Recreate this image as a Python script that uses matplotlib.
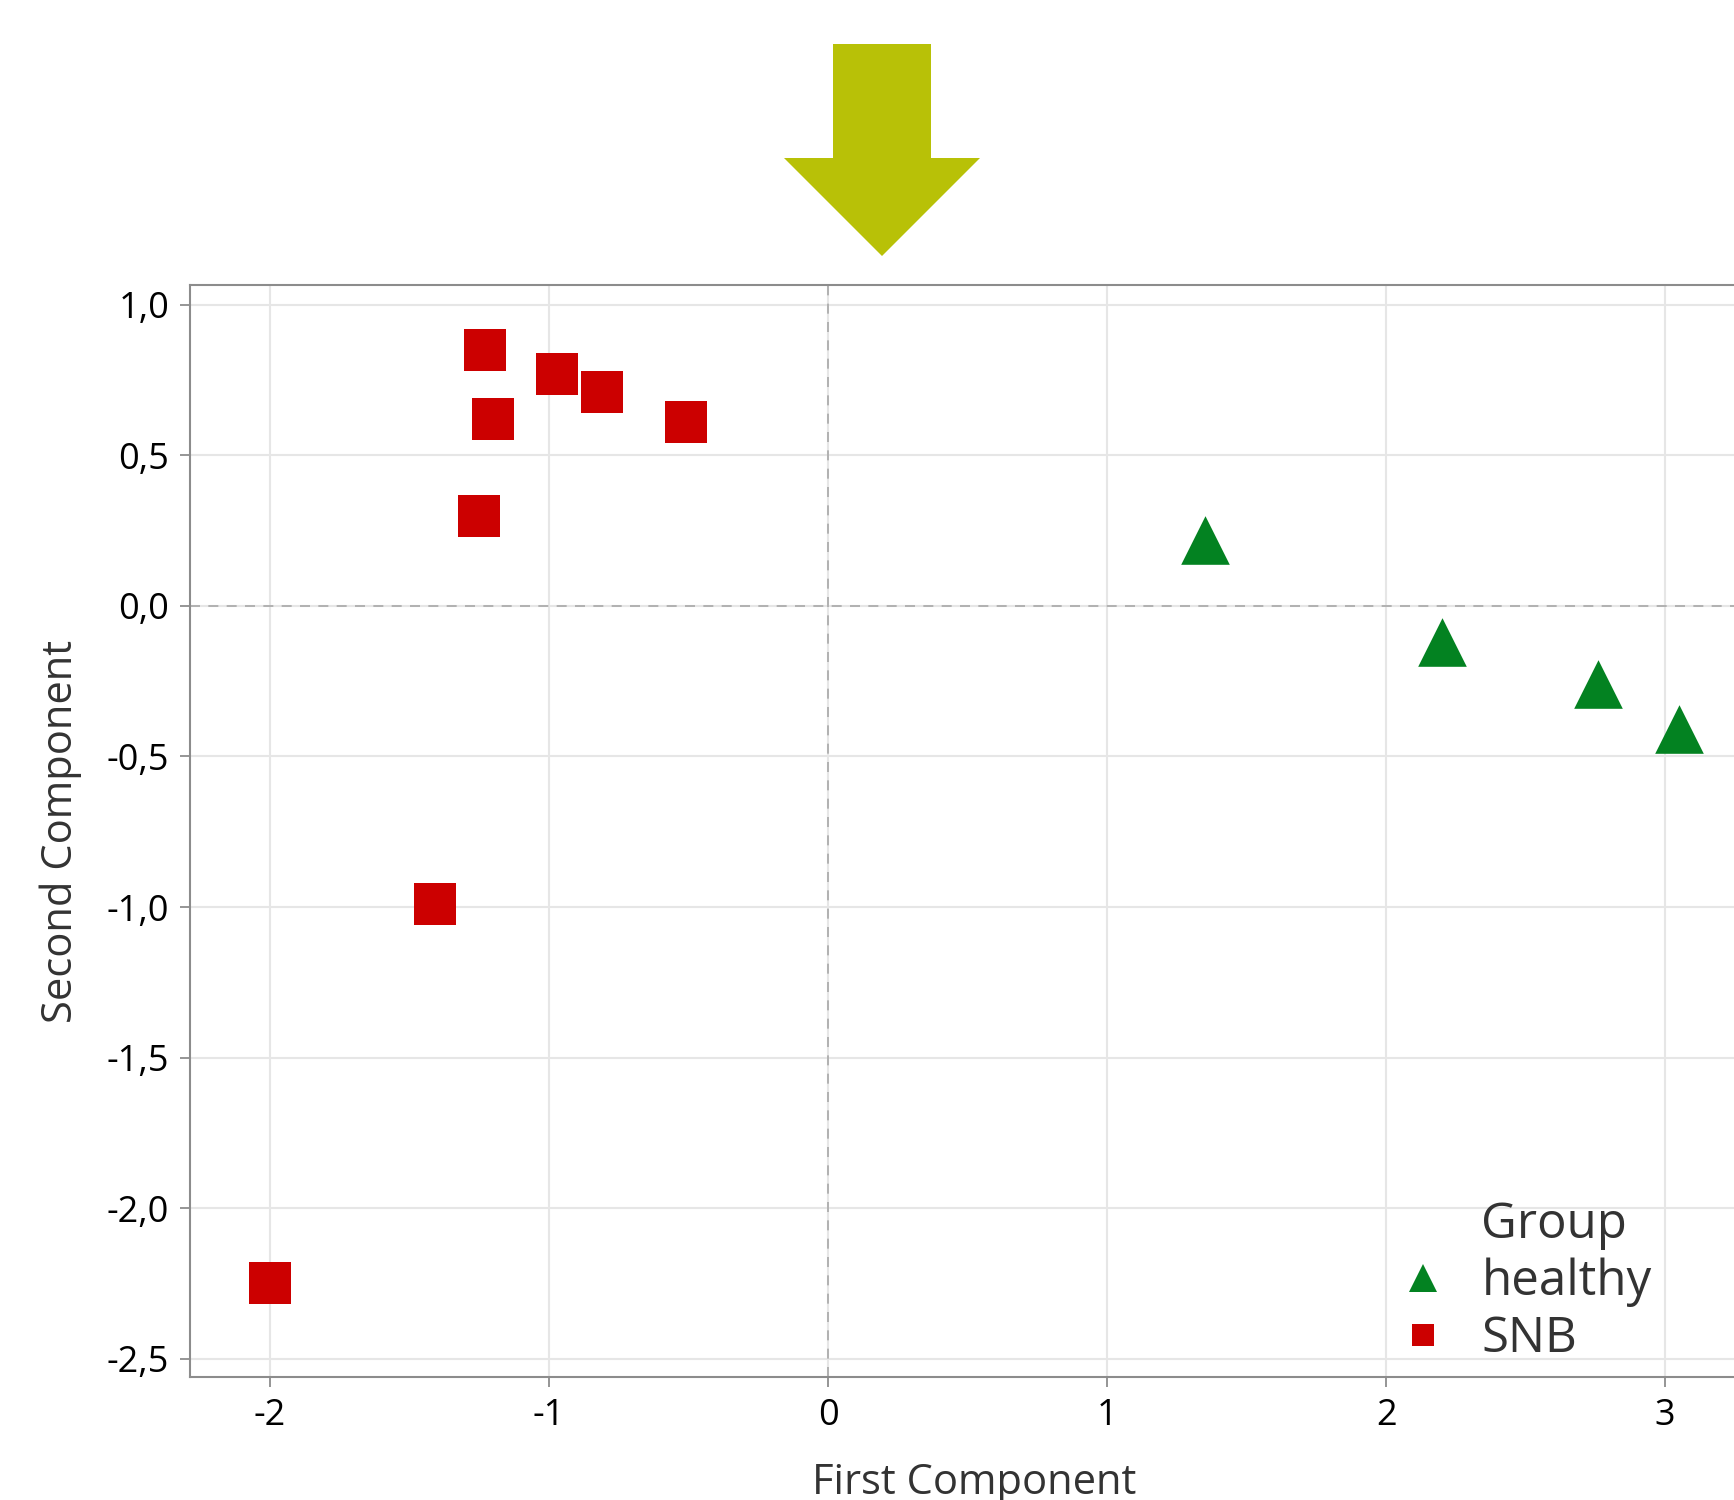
import matplotlib
matplotlib.use("Agg")
import matplotlib.pyplot as plt
from matplotlib.lines import Line2D
from matplotlib.patches import Polygon

plt.rcParams['font.family'] = ['Open Sans', 'DejaVu Sans']

# data
snb_x = [-1.23, -1.20, -0.97, -0.81, -0.51, -1.25, -1.41, -2.00]
snb_y = [0.85, 0.62, 0.77, 0.71, 0.61, 0.30, -0.99, -2.25]
healthy_x = [1.35, 2.20, 2.76, 3.05]
healthy_y = [0.22, -0.12, -0.26, -0.41]
xticks = [-2, -1, 0, 1, 2, 3]
yticks = [-2.5, -2.0, -1.5, -1.0, -0.5, 0.0, 0.5, 1.0]
ytick_labels = ['-2,5', '-2,0', '-1,5', '-1,0', '-0,5', '0,0', '0,5', '1,0']

red = '#CC0000'
green = '#038221'
arrow_col = '#B8C107'

W, H = 1734, 1500
fig = plt.figure(figsize=(W / 100, H / 100), dpi=100)
# axes runs off the right edge of the picture like the original
ax = fig.add_axes([190 / W, 1 - 1377 / H, (1758 - 190) / W, (1377 - 285) / H])
ax.set_xlim(-2.287, 3.333)
ax.set_ylim(-2.561, 1.066)

ax.set_xticks(xticks)
ax.set_xticklabels([str(t) for t in xticks])
ax.set_yticks(yticks)
ax.set_yticklabels(ytick_labels)
ax.grid(True, color='#E6E6E6', linewidth=1.5, zorder=0)
ax.set_axisbelow(True)
ax.axvline(0, color='#A8A8A8', linestyle=(0, (6, 5)), linewidth=1.2, zorder=1)
ax.axhline(0, color='#A8A8A8', linestyle=(0, (6, 5)), linewidth=1.2, zorder=1)

ax.scatter(snb_x, snb_y, marker='s', s=30 ** 2, color=red, linewidths=0, zorder=3)
ax.scatter(healthy_x, healthy_y, marker='^', s=35 ** 2, color=green, linewidths=0, zorder=3)

for side in ['left', 'top', 'bottom']:
    ax.spines[side].set_color('#8C8C8C')
    ax.spines[side].set_linewidth(1.5)
ax.spines['right'].set_visible(False)
ax.tick_params(axis='both', colors='#8C8C8C', labelcolor='#000000',
               length=7, width=1.3, labelsize=26, pad=8)

ax.set_xlabel('First Component', fontsize=30, color='#333333', labelpad=20)
ax.set_ylabel('Second Component', fontsize=30, color='#333333', labelpad=18)

# legend: title as a row without marker so it lines up with the labels
handles = [
    Line2D([], [], linestyle='none', marker=None),
    Line2D([], [], linestyle='none', marker='^', markersize=20, color=green, markeredgewidth=0),
    Line2D([], [], linestyle='none', marker='s', markersize=16, color=red, markeredgewidth=0),
]
ax.legend(handles, ['Group', 'healthy', 'SNB'], loc='upper left',
          bbox_to_anchor=(1400 / W, 1 - 1200 / H), bbox_transform=fig.transFigure,
          frameon=False, fontsize=35.5, handlelength=0.95, handletextpad=0.7,
          labelspacing=0.16, borderpad=0, borderaxespad=0, labelcolor='#333333')

# green arrow above the plot
arrow_pts = [(833, 44), (931, 44), (931, 158), (980, 158), (882, 256),
             (784, 158), (833, 158)]
arrow = Polygon([(x / W, 1 - y / H) for x, y in arrow_pts], closed=True,
                transform=fig.transFigure, facecolor=arrow_col, edgecolor='none')
fig.patches.append(arrow)

fig.savefig('out.png', dpi=100)
